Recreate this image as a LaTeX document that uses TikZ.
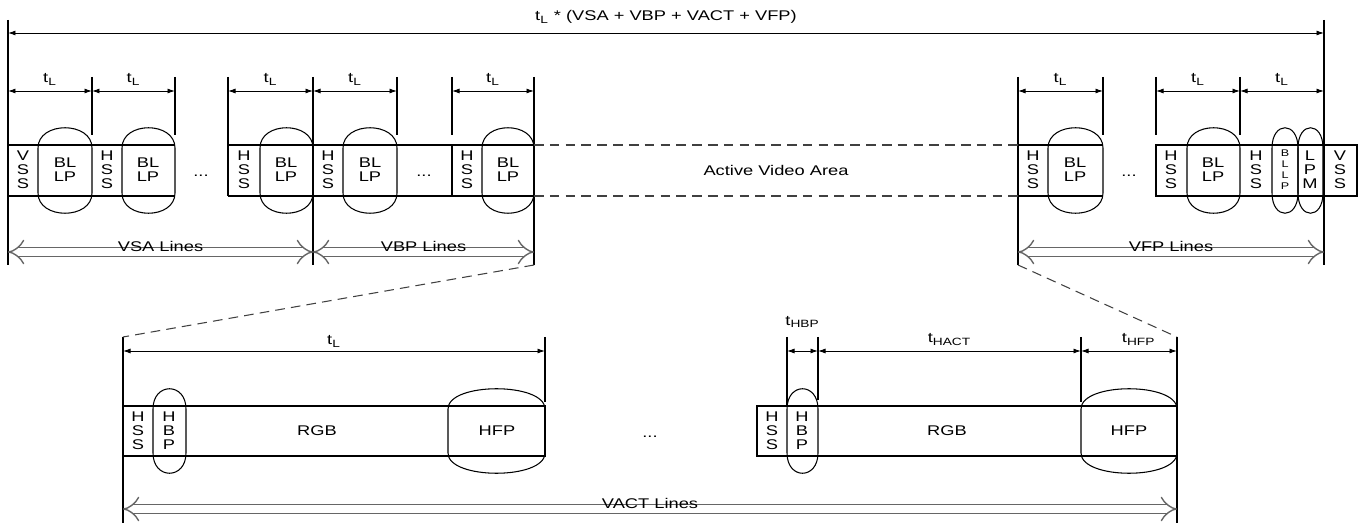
\documentclass[tikz,border=0pt]{standalone}
\usepackage{fontspec}
\setmainfont{Liberation Sans}[FakeStretch=1.3]
\usepackage{tikz}
\usetikzlibrary{arrows.meta}

\newcommand{\drawcapsule}[4]{%
  \draw [box] (#1,#3+3) .. controls (#1,#3-24) and (#2,#3-24) .. (#2,#3+3)
    -- (#2,#4-3) .. controls (#2,#4+24) and (#1,#4+24) .. (#1,#4-3) -- cycle;}

\begin{document}
\begin{tikzpicture}[x=0.02cm, y=-0.02cm]

\tikzstyle{box} = [line width=0.6pt]
\tikzstyle{dim} = [line width=0.5pt, {Latex[length=1.5mm,width=1mm]}-{Latex[length=1.5mm,width=1mm]}]
\tikzstyle{periodarrow} = [draw=black!60, line width=0.8pt, double=white, double distance=4.2pt, {Implies}-{Implies}]
\tikzstyle{guide} = [black!75, line width=0.6pt, dash pattern=on 5.5pt off 3.5pt]
\tikzstyle{cell} = [font=\fontsize{8}{7.9}\selectfont, align=center, inner sep=0pt]
\tikzstyle{smallcell} = [font=\fontsize{5.5}{6.2}\selectfont, align=center, inner sep=0pt]
\tikzstyle{tlabel} = [font=\fontsize{8}{9}\selectfont, inner sep=0pt]

\useasboundingbox (0,0) rectangle (1365,523);

% frame lines
\draw [box] (8,20) -- (8,265);
\draw [box] (1324,20) -- (1324,265);
\foreach \x in {313,534,1018} \draw [box] (\x,77) -- (\x,265);
\foreach \x in {92,175,397,452,1103,1156,1240} \draw [box] (\x,77) -- (\x,135);
\draw [box] (228,77) -- (228,196);
\draw [box] (123,337) -- (123,523);
\draw [box] (1177,337) -- (1177,523);
\draw [box] (545,337) -- (545,402);
\draw [box] (787,337) -- (787,406);
\draw [box] (818,337) -- (818,400);
\draw [box] (1081,337) -- (1081,402);

% line boxes
\draw [box] (8,145) -- (175,145) (8,196) -- (175,196);
\draw [box] (228,145) -- (534,145) (228,196) -- (534,196);
\draw [box] (452,145) -- (452,196);
\draw [box] (1018,145) -- (1103,145) (1018,196) -- (1103,196);
\draw [box] (1156,145) rectangle (1357,196);
\draw [box] (123,406) rectangle (545,456);
\draw [box] (757,406) rectangle (1177,456);

\drawcapsule{38}{92}{145}{196}
\drawcapsule{122}{175}{145}{196}
\drawcapsule{260}{313}{145}{196}
\drawcapsule{343}{397}{145}{196}
\drawcapsule{482}{534}{145}{196}
\drawcapsule{1048}{1103}{145}{196}
\drawcapsule{1187}{1240}{145}{196}
\drawcapsule{1272}{1298}{145}{196}
\drawcapsule{1298}{1323}{145}{196}
\drawcapsule{153}{186}{406}{456}
\drawcapsule{448}{545}{406}{456}
\drawcapsule{787}{818}{406}{456}
\drawcapsule{1081}{1177}{406}{456}

% texts
\node (vss1) [cell] at (23,170) {V\\S\\S};
\node (bllp1) [cell] at (65,170) {BL\\LP};
\node (hss1) [cell] at (107,170) {H\\S\\S};
\node (bllp2) [cell] at (148,170) {BL\\LP};
\node (dots1) [cell] at (201,176) {...};
\node (hss2) [cell] at (244,170) {H\\S\\S};
\node (bllp3) [cell] at (286,170) {BL\\LP};
\node (hss3) [cell] at (328,170) {H\\S\\S};
\node (bllp4) [cell] at (370,170) {BL\\LP};
\node (dots2) [cell] at (424,176) {...};
\node (hss4) [cell] at (467,170) {H\\S\\S};
\node (bllp5) [cell] at (508,170) {BL\\LP};
\node (active) [cell] at (776,170) {Active Video Area};
\node (hss5) [cell] at (1033,170) {H\\S\\S};
\node (bllp6) [cell] at (1075,170) {BL\\LP};
\node (dots3) [cell] at (1129,176) {...};
\node (hss6) [cell] at (1171,170) {H\\S\\S};
\node (bllp7) [cell] at (1213,170) {BL\\LP};
\node (hss7) [cell] at (1256,170) {H\\S\\S};
\node (bllp8) [smallcell] at (1285,170) {B\\L\\L\\P};
\node (lpm) [cell] at (1310,170) {L\\P\\M};
\node (vss2) [cell] at (1340,170) {V\\S\\S};

\node (hss8) [cell] at (138,431) {H\\S\\S};
\node (hbp1) [cell] at (169,431) {H\\B\\P};
\node (rgb1) [cell] at (317,431) {RGB};
\node (hfp1) [cell] at (497,431) {HFP};
\node (dots4) [cell] at (650,437) {...};
\node (hss9) [cell] at (772,431) {H\\S\\S};
\node (hbp2) [cell] at (802,431) {H\\B\\P};
\node (rgb2) [cell] at (947,431) {RGB};
\node (hfp2) [cell] at (1129,431) {HFP};

% timing arrows
\coordinate (top0) at (8,33);
\coordinate (top1) at (1324,33);
\draw [dim] (top0) -- (top1) node [midway, above=5pt, tlabel] (total) {t\textsubscript{L} * (VSA + VBP + VACT + VFP)};

\foreach \x [count=\i] in {8,92,175,228,313,397,452,534,1018,1103,1156,1240,1324}
  \coordinate (d\i) at (\x,91);
\foreach \a/\b in {1/2,2/3,4/5,5/6,7/8,9/10,11/12,12/13}
  \draw [dim] (d\a) -- (d\b) node [midway, above=3pt, tlabel] (tl\a) {t\textsubscript{L}};

\coordinate (b1) at (123,351);
\coordinate (b2) at (545,351);
\coordinate (b3) at (787,351);
\coordinate (b4) at (818,351);
\coordinate (b5) at (1081,351);
\coordinate (b6) at (1177,351);
\draw [dim] (b1) -- (b2) node [midway, above=2pt, tlabel] (tline) {t\textsubscript{L}};
\draw [dim] (b3) -- (b4) node [midway, above=13pt, tlabel] (thbp) {t\textsubscript{HBP}};
\draw [dim] (b4) -- (b5) node [midway, above=3pt, tlabel] (thact) {t\textsubscript{HACT}};
\draw [dim] (b5) -- (b6) node [pos=0.6, above=3pt, tlabel] (thfp) {t\textsubscript{HFP}};

% line counts
\coordinate (s1) at (8,252);
\coordinate (s2) at (313,252);
\coordinate (s3) at (534,252);
\coordinate (s4) at (1018,252);
\coordinate (s5) at (1324,252);
\draw [periodarrow] (s1) -- (s2) node [midway, above=0pt, tlabel] (vsa) {VSA Lines};
\draw [periodarrow] (s2) -- (s3) node [midway, above=0pt, tlabel] (vbp) {VBP Lines};
\draw [periodarrow] (s4) -- (s5) node [midway, above=0pt, tlabel] (vfp) {VFP Lines};
\coordinate (u1) at (123,509);
\coordinate (u2) at (1177,509);
\draw [periodarrow] (u1) -- (u2) node [midway, above=0pt, tlabel] (vact) {VACT Lines};

% zoom guides
\coordinate (z1) at (534,265);
\coordinate (z2) at (123,337);
\coordinate (z3) at (1018,265);
\coordinate (z4) at (1177,337);
\draw [guide] (534,145) -- (1018,145);
\draw [guide] (534,196) -- (1018,196);
\draw [guide] (z1) -- (z2);
\draw [guide] (z3) -- (z4);

\end{tikzpicture}
\end{document}
